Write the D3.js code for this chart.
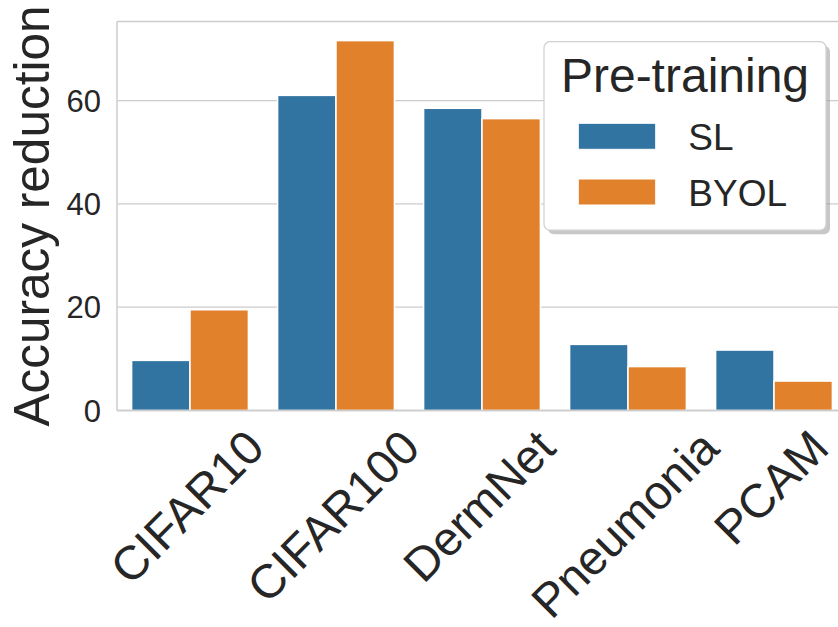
<!DOCTYPE html>
<html>
<head>
<meta charset="utf-8">
<script src="https://cdn.jsdelivr.net/npm/d3@7"></script>
<style>
  html, body { margin: 0; padding: 0; background: #fff; }
  svg { display: block; font-family: "Liberation Sans", Arial, sans-serif; }
</style>
</head>
<body>
<svg id="chart" width="838" height="627"></svg>
<script>
const categories = ["CIFAR10", "CIFAR100", "DermNet", "Pneumonia", "PCAM"];
const seriesNames = ["SL", "BYOL"];
const slValues = [9.7, 61.0, 58.5, 12.8, 11.7];
const byolValues = [19.5, 71.6, 56.5, 8.5, 5.7];
const yTicks = [0, 20, 40, 60];
const colors = ["#3274a1", "#e1812c"];
const yLabel = "Accuracy reduction";
const legendTitle = "Pre-training";

const svg = d3.select("#chart");
const textColor = "#262626";
const gridColor = "#cccccc";

const pLeft = 117, pRight = 847, pTop = 21.5, pBottom = 410.5;

const x = d3.scaleBand().domain(categories).range([pLeft, pRight])
  .paddingInner(0.2).paddingOuter(0.1);
const xs = d3.scaleBand().domain(seriesNames).range([0, x.bandwidth()]);
const y = d3.scaleLinear().domain([0, 75.3]).range([pBottom, pTop]);

// grid
svg.append("g").selectAll("line").data(yTicks).join("line")
  .attr("x1", pLeft).attr("x2", pRight)
  .attr("y1", d => y(d)).attr("y2", d => y(d))
  .attr("stroke", gridColor).attr("stroke-width", 1.3);

// bars
const rows = categories.map((c, i) => ({cat: c, vals: [slValues[i], byolValues[i]]}));
const g = svg.append("g");
rows.forEach(r => {
  r.vals.forEach((v, j) => {
    g.append("rect")
      .attr("x", x(r.cat) + xs(seriesNames[j]))
      .attr("y", y(v))
      .attr("width", xs.bandwidth())
      .attr("height", y(0) - y(v))
      .attr("fill", colors[j])
      .attr("stroke", "#ffffff").attr("stroke-width", 1.5);
  });
});

// spines
svg.append("line").attr("x1", pLeft).attr("x2", pLeft).attr("y1", pTop).attr("y2", pBottom)
  .attr("stroke", gridColor).attr("stroke-width", 1.5);
svg.append("line").attr("x1", pLeft).attr("x2", pRight).attr("y1", pBottom).attr("y2", pBottom)
  .attr("stroke", gridColor).attr("stroke-width", 1.5);
svg.append("line").attr("x1", pLeft).attr("x2", pRight).attr("y1", pTop).attr("y2", pTop)
  .attr("stroke", gridColor).attr("stroke-width", 1.5);

// y axis ticks
svg.append("g").selectAll("text").data(yTicks).join("text")
  .attr("x", 101).attr("y", d => y(d)).attr("dy", "0.36em")
  .attr("text-anchor", "end").attr("font-size", 31).attr("fill", textColor)
  .text(d => d);

// y label
svg.append("text")
  .attr("transform", `translate(48.5, ${(pTop + pBottom) / 2}) rotate(-90)`)
  .attr("text-anchor", "middle").attr("font-size", 49.5).attr("fill", textColor)
  .text(yLabel);

// x tick labels rotated 45, bbox centered on tick
const xl = svg.append("g");
categories.forEach(c => {
  const cx = x(c) + x.bandwidth() / 2;
  const t = xl.append("text")
    .attr("text-anchor", "middle").attr("dy", "0.35em")
    .attr("font-size", 47.5).attr("fill", textColor)
    .attr("transform", `translate(${cx}, 500) rotate(-45)`)
    .text(c);
  const bb = t.node().getBoundingClientRect();
  const shift = 420 - bb.top;
  const centerShift = cx - 3 - (bb.left + bb.right) / 2;
  t.attr("transform", `translate(${cx + centerShift}, ${500 + shift}) rotate(-45)`);
});

// legend
const lg = svg.append("g");
const lx = 544, ly = 41.7, lw = 282, lh = 188.5;
lg.append("rect").attr("x", lx + 4).attr("y", ly + 4).attr("width", lw).attr("height", lh)
  .attr("rx", 6).attr("fill", "#999999").attr("opacity", 0.55);
lg.append("rect").attr("x", lx).attr("y", ly).attr("width", lw).attr("height", lh)
  .attr("rx", 6).attr("fill", "#ffffff").attr("stroke", "#d0d0d0").attr("stroke-width", 1.2);
lg.append("text").attr("x", lx + lw / 2).attr("y", 91.7).attr("text-anchor", "middle")
  .attr("font-size", 48).attr("fill", textColor).text(legendTitle);
const itemY = [123.3, 179];
seriesNames.forEach((s, j) => {
  lg.append("rect").attr("x", 578.3).attr("y", itemY[j]).attr("width", 77.4).attr("height", 26)
    .attr("fill", colors[j]).attr("stroke", "#ffffff").attr("stroke-width", 1);
  lg.append("text").attr("x", 688.3).attr("y", itemY[j] + 26.5)
    .attr("font-size", 37).attr("fill", textColor).text(s);
});
</script>
</body>
</html>
